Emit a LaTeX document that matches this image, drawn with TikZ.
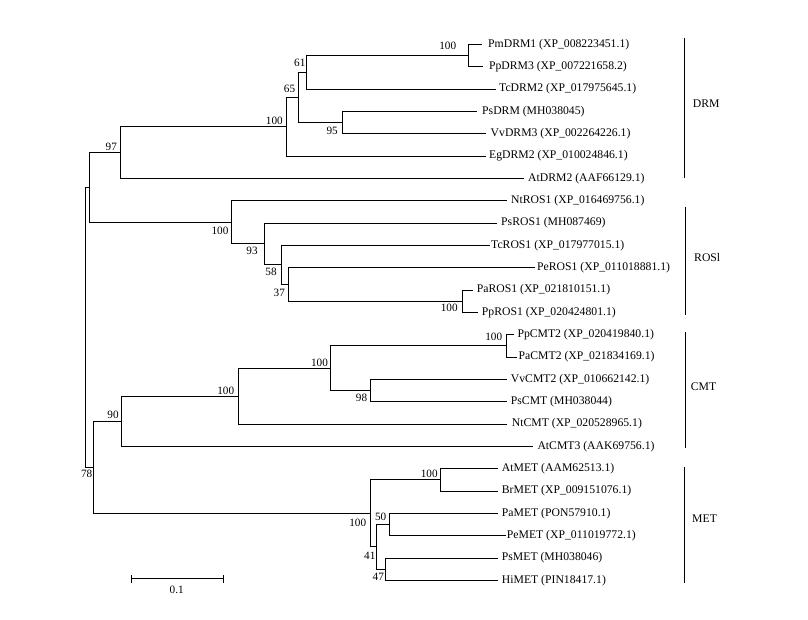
\documentclass[tikz,border=0pt]{standalone}
\usepackage{fontspec}
\setmainfont{Liberation Serif}
\begin{document}
\begin{tikzpicture}[x=1pt,y=-1pt,
  br/.style={draw=black, line width=0.95pt},
  leaf/.style={anchor=west, inner sep=0pt, font=\fontsize{11.7}{13}\selectfont},
  boot/.style={inner sep=0pt, font=\fontsize{11.2}{13}\selectfont},
  grp/.style={anchor=west, inner sep=0pt, font=\fontsize{11.7}{13}\selectfont}]
\useasboundingbox (0,0) rectangle (808,619);
% ---------- leaves: branch ends and labels ----------
\coordinate (e0) at (482,44.3);   \node[leaf] (l0) at (488,44.3) {PmDRM1 (XP\_008223451.1)};
\coordinate (e1) at (483,66.6);   \node[leaf] (l1) at (488.8,66.6) {PpDRM3 (XP\_007221658.2)};
\coordinate (e2) at (495.7,89.0); \node[leaf] (l2) at (499,89.0) {TcDRM2 (XP\_017975645.1)};
\coordinate (e3) at (477,111.3);  \node[leaf] (l3) at (482,111.3) {PsDRM (MH038045)};
\coordinate (e4) at (486,133.6);  \node[leaf] (l4) at (490.5,133.6) {VvDRM3 (XP\_002264226.1)};
\coordinate (e5) at (486,156.0);  \node[leaf] (l5) at (489,156.0) {EgDRM2 (XP\_010024846.1)};
\coordinate (e6) at (524,178.3);  \node[leaf] (l6) at (528,178.3) {AtDRM2 (AAF66129.1)};
\coordinate (e7) at (507.3,200.6); \node[leaf] (l7) at (511,200.6) {NtROS1 (XP\_016469756.1)};
\coordinate (e8) at (496.7,223.0); \node[leaf] (l8) at (501,223.0) {PsROS1 (MH087469)};
\coordinate (e9) at (490,245.3);  \node[leaf] (l9) at (491,245.3) {TcROS1 (XP\_017977015.1)};
\coordinate (e10) at (535,267.6); \node[leaf] (l10) at (537,267.6) {PeROS1 (XP\_011018881.1)};
\coordinate (e11) at (473.3,290.0); \node[leaf] (l11) at (476.7,290.0) {PaROS1 (XP\_021810151.1)};
\coordinate (e12) at (478.3,312.3); \node[leaf] (l12) at (481.7,312.3) {PpROS1 (XP\_020424801.1)};
\coordinate (e13) at (514,334.6);  \node[leaf] (l13) at (517.3,334.6) {PpCMT2 (XP\_020419840.1)};
\coordinate (e14) at (516.7,357.0); \node[leaf] (l14) at (518.5,357.0) {PaCMT2 (XP\_021834169.1)};
\coordinate (e15) at (507.3,379.3); \node[leaf] (l15) at (510.7,379.3) {VvCMT2 (XP\_010662142.1)};
\coordinate (e16) at (507.3,401.6); \node[leaf] (l16) at (510.7,401.6) {PsCMT (MH038044)};
\coordinate (e17) at (507.3,424.0); \node[leaf] (l17) at (511.7,424.0) {NtCMT (XP\_020528965.1)};
\coordinate (e18) at (533.3,446.3); \node[leaf] (l18) at (537.3,446.3) {AtCMT3 (AAK69756.1)};
\coordinate (e19) at (497.7,468.6); \node[leaf] (l19) at (501.7,468.6) {AtMET (AAM62513.1)};
\coordinate (e20) at (497.7,491.0); \node[leaf] (l20) at (501.7,491.0) {BrMET (XP\_009151076.1)};
\coordinate (e21) at (497.7,513.3); \node[leaf] (l21) at (501.7,513.3) {PaMET (PON57910.1)};
\coordinate (e22) at (506,535.6);   \node[leaf] (l22) at (506.7,535.6) {PeMET (XP\_011019772.1)};
\coordinate (e23) at (497.7,558.0); \node[leaf] (l23) at (501.7,558.0) {PsMET (MH038046)};
\coordinate (e24) at (497.7,580.3); \node[leaf] (l24) at (501.7,580.3) {HiMET (PIN18417.1)};
% ---------- internal nodes ----------
\coordinate (dA) at (468.7,55.5);
\coordinate (d61) at (306.7,72.2);
\coordinate (d95) at (342.7,122.5);
\coordinate (d65) at (298.3,97.3);
\coordinate (d100) at (286.7,126.7);
\coordinate (d97) at (120.3,152.5);
\coordinate (rB) at (462.7,301.1);
\coordinate (r37) at (288.3,284.4);
\coordinate (r58) at (281.3,264.9);
\coordinate (r93) at (264.3,243.9);
\coordinate (r100) at (231.3,222.3);
\coordinate (dr) at (89.7,187.4);
\coordinate (cA) at (506.7,345.8);
\coordinate (c98) at (370.3,390.5);
\coordinate (c100i) at (330,368.1);
\coordinate (c100) at (238.7,396.1);
\coordinate (c90) at (121.3,421.2);
\coordinate (mA) at (440.3,479.8);
\coordinate (m50) at (389.3,524.5);
\coordinate (m47) at (385.3,569.2);
\coordinate (m41) at (376.3,546.8);
\coordinate (m100) at (370.3,513.3);
\coordinate (cm) at (93.3,467.3);
\coordinate (root) at (85.7,327.3);
% ---------- branches ----------
\draw[br] (dA) |- (e0);  \draw[br] (dA) |- (e1);
\draw[br] (d61) |- (dA); \draw[br] (d61) |- (e2);
\draw[br] (d95) |- (e3); \draw[br] (d95) |- (e4);
\draw[br] (d65) |- (d61); \draw[br] (d65) |- (d95);
\draw[br] (d100) |- (d65); \draw[br] (d100) |- (e5);
\draw[br] (d97) |- (d100); \draw[br] (d97) |- (e6);
\draw[br] (rB) |- (e11); \draw[br] (rB) |- (e12);
\draw[br] (r37) |- (e10); \draw[br] (r37) |- (rB);
\draw[br] (r58) |- (e9); \draw[br] (r58) |- (r37);
\draw[br] (r93) |- (e8); \draw[br] (r93) |- (r58);
\draw[br] (r100) |- (e7); \draw[br] (r100) |- (r93);
\draw[br] (dr) |- (d97); \draw[br] (dr) |- (r100);
\draw[br] (cA) |- (e13); \draw[br] (cA) |- (e14);
\draw[br] (c98) |- (e15); \draw[br] (c98) |- (e16);
\draw[br] (c100i) |- (cA); \draw[br] (c100i) |- (c98);
\draw[br] (c100) |- (c100i); \draw[br] (c100) |- (e17);
\draw[br] (c90) |- (c100); \draw[br] (c90) |- (e18);
\draw[br] (mA) |- (e19); \draw[br] (mA) |- (e20);
\draw[br] (m50) |- (e21); \draw[br] (m50) |- (e22);
\draw[br] (m47) |- (e23); \draw[br] (m47) |- (e24);
\draw[br] (m41) |- (m50); \draw[br] (m41) |- (m47);
\draw[br] (m100) |- (mA); \draw[br] (m100) |- (m41);
\draw[br] (cm) |- (c90); \draw[br] (cm) |- (m100);
\draw[br] (root) |- (dr); \draw[br] (root) |- (cm);
% ---------- bootstrap values ----------
\node[boot] (bA) at (447.7,45.7) {100};
\node[boot] (b61) at (299.8,63.3) {61};
\node[boot] (b65) at (289.5,88.7) {65};
\node[boot] (b100d) at (274.3,120.7) {100};
\node[boot] (b95) at (332.2,130.7) {95};
\node[boot] (b97) at (111.3,147.3) {97};
\node[boot] (b100r) at (220,230.7) {100};
\node[boot] (b93) at (252,251.3) {93};
\node[boot] (b58) at (271,271.7) {58};
\node[boot] (b37) at (279.3,292.7) {37};
\node[boot] (bB) at (449.2,308.3) {100};
\node[boot] (bC) at (493.7,336.7) {100};
\node[boot] (b100ci) at (319.5,362.7) {100};
\node[boot] (b98) at (361.5,397.7) {98};
\node[boot] (b100c) at (225.7,390.7) {100};
\node[boot] (b90) at (113,415) {90};
\node[boot] (b78) at (86.7,474.3) {78};
\node[boot] (bM) at (429.2,474.3) {100};
\node[boot] (b100m) at (357.7,522.7) {100};
\node[boot] (b50) at (380.7,516.7) {50};
\node[boot] (b41) at (369.8,555.3) {41};
\node[boot] (b47) at (378.3,576.7) {47};
% ---------- group bars ----------
\coordinate (gDt) at (684.3,38.3);  \coordinate (gDb) at (684.3,178.3);
\coordinate (gRt) at (685.7,206.7); \coordinate (gRb) at (685.7,315);
\coordinate (gCt) at (685,331.7);   \coordinate (gCb) at (685,448.3);
\coordinate (gMt) at (684,466.7);   \coordinate (gMb) at (684,583);
\draw[br] (gDt) -- (gDb); \node[grp] (gD) at (692.7,104) {DRM};
\draw[br] (gRt) -- (gRb); \node[grp] (gR) at (694,257) {ROSl};
\draw[br] (gCt) -- (gCb); \node[grp] (gC) at (690.7,387) {CMT};
\draw[br] (gMt) -- (gMb); \node[grp] (gM) at (692,519) {MET};
% ---------- scale bar ----------
\coordinate (s1) at (131.3,578.3); \coordinate (s2) at (223.3,578.3);
\coordinate (s1a) at (131.3,575); \coordinate (s1b) at (131.3,582.7);
\coordinate (s2a) at (223.3,575); \coordinate (s2b) at (223.3,582.7);
\draw[br] (s1) -- (s2);
\draw[br] (s1a) -- (s1b);
\draw[br] (s2a) -- (s2b);
\node[boot] (sl) at (176.7,590) {0.1};
\end{tikzpicture}
\end{document}
